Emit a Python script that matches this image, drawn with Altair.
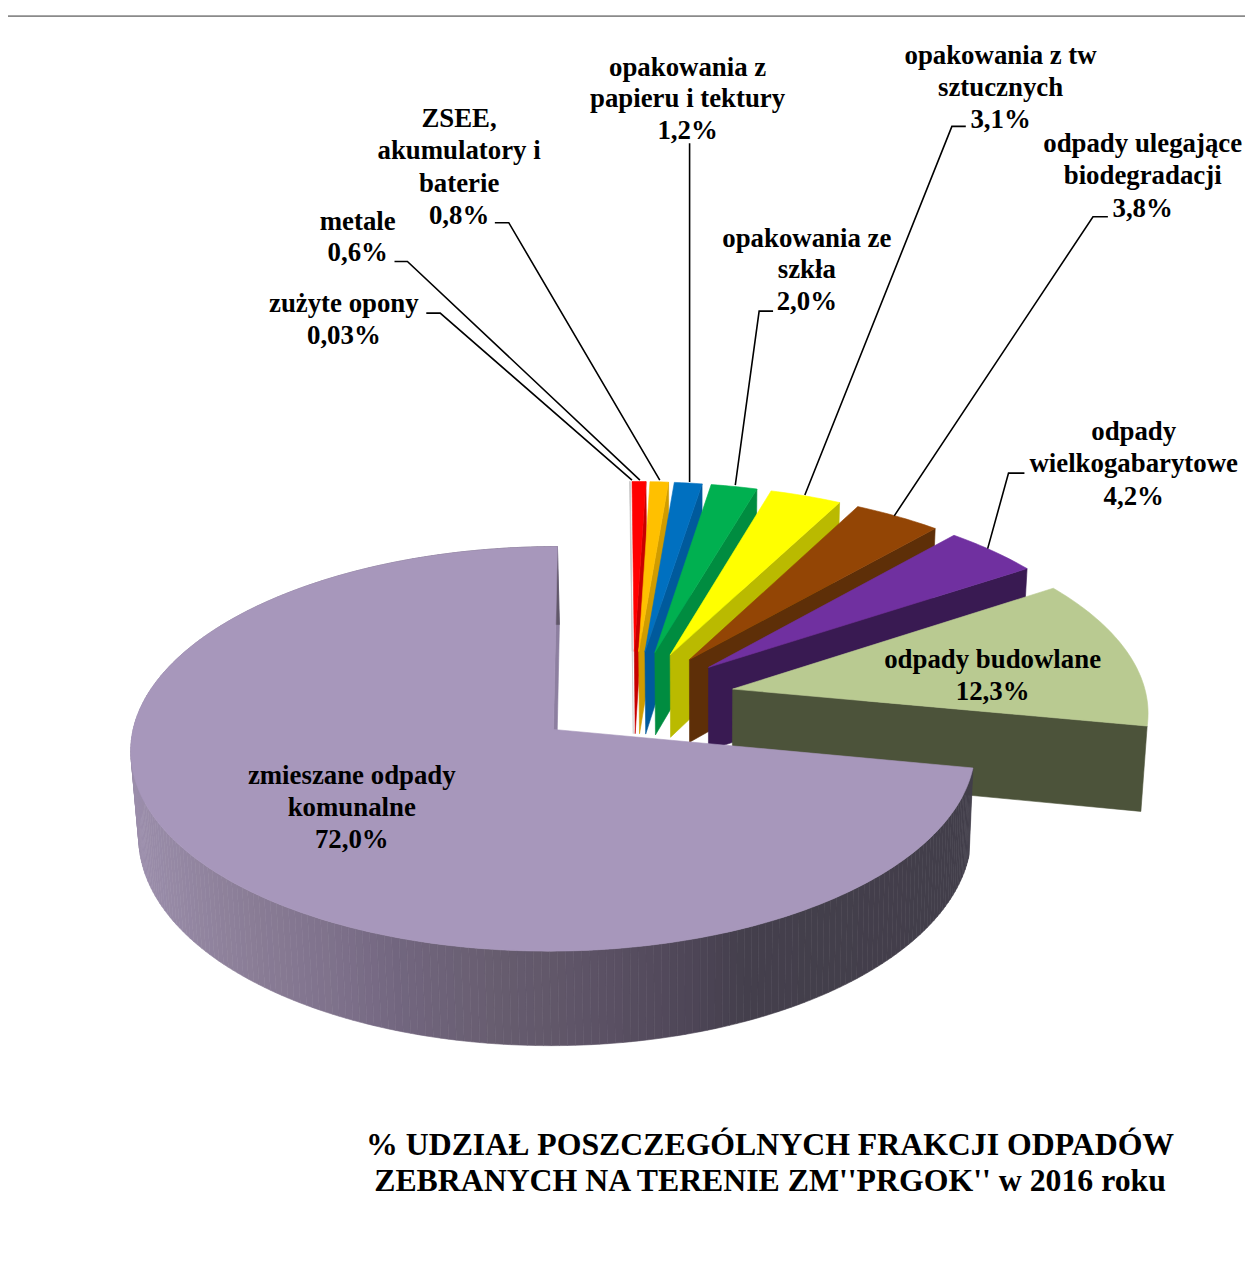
import math
import altair as alt

# --- values -----------------------------------------------------------------
categories = ["zmieszane odpady komunalne", "odpady budowlane", "odpady wielkogabarytowe",
              "odpady ulegające biodegradacji", "opakowania z tw sztucznych", "opakowania ze szkła",
              "opakowania z papieru i tektury", "ZSEE, akumulatory i baterie", "metale", "zużyte opony"]
shares = [72.0, 12.3, 4.2, 3.8, 3.1, 2.0, 1.2, 0.8, 0.6, 0.03]
top_colors = ["#a797bb", "#b9ca91", "#7030a0", "#934505", "#ffff00", "#00b050", "#0070c0", "#ffc000", "#ff0000", "#c8c8c8"]
wall_colors = ["#8d7fa0", "#4c533a", "#391a52", "#5e2f08", "#baba00", "#008c40", "#005a9c", "#d09c00", "#c80000", "#c8c8c8"]

label_text = ["zmieszane odpady", "komunalne", "72,0%",
              "odpady budowlane", "12,3%",
              "odpady", "wielkogabarytowe", "4,2%",
              "odpady ulegające", "biodegradacji", "3,8%",
              "opakowania z tw", "sztucznych", "3,1%",
              "opakowania ze", "szkła", "2,0%",
              "opakowania z", "papieru i tektury", "1,2%",
              "ZSEE,", "akumulatory i", "baterie", "0,8%",
              "metale", "0,6%",
              "zużyte opony", "0,03%"]
label_x = [354, 354, 354, 999, 999, 1141, 1141, 1141, 1150, 1150, 1150, 1007, 1007, 1007,
           812, 812, 812, 692, 692, 692, 462, 462, 462, 462, 360, 360, 346, 346]
label_y = [785, 817, 849, 668, 700, 439, 471, 504, 149, 181, 214, 60, 92, 125,
           244, 276, 308, 72, 104, 136, 124, 156, 189, 221, 227, 259, 310, 342]

title_lines = ["% UDZIAŁ POSZCZEGÓLNYCH FRAKCJI ODPADÓW", 'ZEBRANYCH NA TERENIE ZM"PRGOK" w 2016 roku']
title_lines[1] = "ZEBRANYCH NA TERENIE ZM''PRGOK'' w 2016 roku"
title_x = [775, 775]
title_y = [1158, 1195]

leader_id = [0, 0, 0, 1, 1, 1, 2, 2, 2, 3, 3, 4, 4, 4, 5, 5, 5, 6, 6, 6, 7, 7, 7]
leader_x = [429, 443, 636, 397, 410, 644, 498, 512, 664, 694, 694, 778, 764, 740, 972, 958, 810, 1115, 1100, 900, 1031, 1015, 994]
leader_y = [311, 311, 479, 259, 259, 479, 220, 220, 479, 140, 481, 309, 309, 484, 123, 123, 494, 214, 214, 515, 472, 472, 548]

border_x = [7, 7, 1253]
border_y = [1278, 12, 12]

# --- view of the pie --------------------------------------------------------
CX, CY = 557, 730      # tip of the big slice on the page
A, B = 423, 201.7      # half axes of the tilted disc
K = 0.096              # perspective along depth
SHEAR = 4.4
EXPLODE = 0.247
DROP = 86              # thickness of the disc
VX, SHRINK = 703, 0.014


def top(x, y):
    w = 1 + K * y
    return (CX + (A * x + SHEAR * y) / w, CY - B * y / w, y)


def bottom(x, y):
    sx, sy, _ = top(x, y)
    w = 1 + K * y
    return (sx + (VX - sx) * SHRINK, sy + DROP / w, y)


def polygon(points, color):
    ring = [[round(p[0] - 0, 2), round(p[1] - 0, 2)] for p in points]
    ring.append(ring[0])
    return {"type": "Feature", "properties": {"c": color},
            "geometry": {"type": "Polygon", "coordinates": [ring]}}


def mix(stops, x):
    if x <= stops[0][0]:
        return stops[0][1]
    for (x0, c0), (x1, c1) in zip(stops, stops[1:]):
        if x <= x1:
            t = (x - x0) / (x1 - x0)
            rgb = [round(int(c0[i:i + 2], 16) * (1 - t) + int(c1[i:i + 2], 16) * t) for i in (1, 3, 5)]
            return "#%02x%02x%02x" % tuple(rgb)
    return stops[-1][1]


wall_stops = [(135, "#9b8eab"), (250, "#8a7d96"), (330, "#7f728c"), (400, "#72667f"), (500, "#675d6f"),
              (600, "#5c5265"), (700, "#4d4556"), (750, "#443f4c"), (975, "#423e4a")]

total = sum(shares)
spans = [s / total * 2 * math.pi for s in shares]
big_mid = math.pi / 2 + spans[0] / 2
centre = (-EXPLODE * math.cos(big_mid), -EXPLODE * math.sin(big_mid))

# angles run counter-clockwise from 12 o'clock for the big slice, the rest follow
starts = []
a = math.pi / 2
for s in spans:
    starts.append(a)
    a += s

slices = []
for i, (a0, s) in enumerate(zip(starts, spans)):
    mid = a0 + s / 2
    ax = centre[0] + EXPLODE * math.cos(mid)
    ay = centre[1] + EXPLODE * math.sin(mid)
    steps = max(2, int(math.degrees(s)))
    rim = [(ax + math.cos(a0 + s * j / steps), ay + math.sin(a0 + s * j / steps)) for j in range(steps + 1)]
    slices.append(((ax, ay), rim))

features = []
# small slices, back to front: grey sliver first, then clockwise down to the olive one
for i in range(len(shares) - 1, 0, -1):
    apex, rim = slices[i]
    end = rim[0]  # clockwise-most edge faces the viewer
    features.append(polygon([top(*apex), top(*end), bottom(*end), bottom(*apex)], wall_colors[i]))
    features.append(polygon([top(*apex)] + [top(*p) for p in rim], top_colors[i]))

apex, rim = slices[0]
first = rim[0]
features.append(polygon([top(*apex), top(*first), bottom(*first), bottom(*apex)], wall_colors[0]))
for p, q in zip(rim, rim[1:]):
    pts = [top(*p), top(*q), bottom(*q), bottom(*p)]
    features.append(polygon(pts, mix(wall_stops, (pts[0][0] + pts[1][0]) / 2)))
features.append(polygon([top(*apex)] + [top(*p) for p in rim], top_colors[0]))

# --- chart ------------------------------------------------------------------
W, H = 1245, 1270
xs = alt.Scale(domain=[8, 1253], range=[0, W])
ys = alt.Scale(domain=[8, 1278], range=[0, H])
FONT = "Liberation Serif"

shapes = alt.Chart(alt.Data(values=features)).mark_geoshape(strokeWidth=0.6).encode(
    fill=alt.Fill("properties.c:N", scale=None, legend=None),
    stroke=alt.Stroke("properties.c:N", scale=None, legend=None),
).project(type="identity", scale=1, translate=[-8, -8])

border = alt.Chart(alt.Data(values=[{"x": x, "y": y, "o": i} for i, (x, y) in enumerate(zip(border_x, border_y))])).mark_line(
    color="#8a8a8a", strokeWidth=1.8).encode(
    x=alt.X("x:Q", scale=xs, axis=None), y=alt.Y("y:Q", scale=ys, axis=None), order="o:Q")

leaders = alt.Chart(alt.Data(values=[{"x": x, "y": y, "id": d, "o": i} for i, (x, y, d) in enumerate(zip(leader_x, leader_y, leader_id))])).mark_line(
    color="#000000", strokeWidth=1.6).encode(
    x=alt.X("x:Q", scale=xs, axis=None), y=alt.Y("y:Q", scale=ys, axis=None),
    detail="id:N", order="o:Q")

labels = alt.Chart(alt.Data(values=[{"x": x, "y": y, "t": t} for x, y, t in zip(label_x, label_y, label_text)])).mark_text(
    font=FONT, fontWeight="bold", fontSize=27, align="center", baseline="alphabetic", color="#000000").encode(
    x=alt.X("x:Q", scale=xs, axis=None), y=alt.Y("y:Q", scale=ys, axis=None), text="t:N")

title = alt.Chart(alt.Data(values=[{"x": x, "y": y, "t": t} for x, y, t in zip(title_x, title_y, title_lines)])).mark_text(
    font=FONT, fontWeight="bold", fontSize=32, align="center", baseline="alphabetic", color="#000000").encode(
    x=alt.X("x:Q", scale=xs, axis=None), y=alt.Y("y:Q", scale=ys, axis=None), text="t:N")

chart = alt.layer(border, shapes, leaders, labels, title).properties(
    width=W, height=H, padding=0, autosize=alt.AutoSizeParams(type="none"), background="#ffffff"
).configure_view(stroke=None)

chart.save("out.html", embed_options={"renderer": "svg", "actions": False})
